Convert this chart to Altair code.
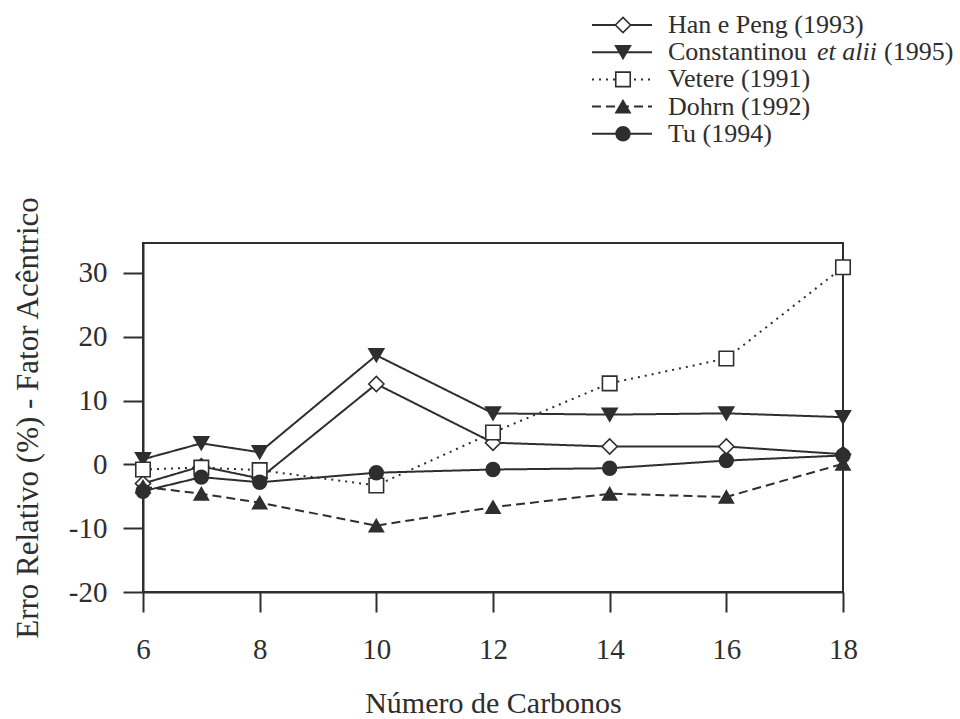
import altair as alt
import pandas as pd

# ---- data ----
carbonos = [6, 7, 8, 10, 12, 14, 16, 18]
series = ["Han e Peng (1993)", "Constantinou et alii (1995)", "Vetere (1991)", "Dohrn (1992)", "Tu (1994)"]
han_peng = [-3.0, -0.3, -2.2, 12.6, 3.4, 2.8, 2.8, 1.6]
constantinou = [0.8, 3.3, 1.9, 17.1, 8.0, 7.8, 8.0, 7.4]
vetere = [-0.8, -0.5, -0.9, -3.3, 5.0, 12.7, 16.6, 30.9]
dohrn = [-3.5, -4.6, -6.0, -9.6, -6.7, -4.6, -5.1, 0.1]
tu = [-4.2, -2.0, -2.8, -1.3, -0.8, -0.6, 0.6, 1.4]
y_ticks = [-20, -10, 0, 10, 20, 30]
x_ticks = [6, 8, 10, 12, 14, 16, 18]

values = [han_peng, constantinou, vetere, dohrn, tu]
rows = []
for name, vals in zip(series, values):
    for c, v in zip(carbonos, vals):
        rows.append({"serie": name, "carbonos": c, "erro": v})
df = pd.DataFrame(rows)

# ---- styles ----
INK = "#2e2e2e"
FONT = "Liberation Serif"
shapes = ["diamond", "triangle-down", "square", "triangle-up", "circle"]
fills = ["white", INK, "white", INK, INK]
dashes = [[1, 0], [1, 0], [2, 5], [9, 5], [1, 0]]
sizes = [230, 190, 170, 190, 200]

dash_scale = alt.Scale(domain=series, range=dashes)
shape_scale = alt.Scale(domain=series, range=shapes)
fill_scale = alt.Scale(domain=series, range=fills)
size_scale = alt.Scale(domain=series, range=sizes)

W, H = 700, 349
x_scale = alt.Scale(domain=[6, 18], nice=False)
y_scale = alt.Scale(domain=[-20, 34.7], nice=False, zero=False)

lines = alt.Chart(df).mark_line(color=INK, strokeWidth=2).encode(
    x=alt.X("carbonos:Q", scale=x_scale,
            axis=alt.Axis(title="Número de Carbonos", values=x_ticks, grid=False,
                          labelExpr="'' + datum.value", labelFlush=False,
                          tickSize=20, labelPadding=23, titlePadding=24)),
    y=alt.Y("erro:Q", scale=y_scale,
            axis=alt.Axis(title="Erro Relativo (%) - Fator Acêntrico", values=y_ticks, grid=False,
                          labelExpr="'' + datum.value", labelFlush=False,
                          tickSize=20, labelPadding=16,
                          titleX=-115, titleY=H / 2, titleAngle=270,
                          titleAlign="center", titleBaseline="middle",
                          titleFontSize=31)),
    detail="serie:N",
    strokeDash=alt.StrokeDash("serie:N", scale=dash_scale, legend=None),
)

points = alt.Chart(df).mark_point(filled=True, stroke=INK, strokeWidth=1.6, opacity=1).encode(
    x=alt.X("carbonos:Q", scale=x_scale),
    y=alt.Y("erro:Q", scale=y_scale),
    shape=alt.Shape("serie:N", scale=shape_scale, legend=None),
    fill=alt.Fill("serie:N", scale=fill_scale, legend=None),
    size=alt.Size("serie:N", scale=size_scale, legend=None),
)

# ---- manual legend (pixel positions relative to the plot area) ----
leg_rows = []
for i, name in enumerate(series):
    ly = -218 + 27.2 * i
    leg_rows.append({"serie": name, "x0": 449, "x1": 509, "xm": 480, "ly": ly})
leg = pd.DataFrame(leg_rows)

leg_lines = alt.Chart(leg).mark_rule(color=INK, strokeWidth=2).encode(
    x=alt.X("x0:Q", scale=None), x2="x1:Q", y=alt.Y("ly:Q", scale=None),
    strokeDash=alt.StrokeDash("serie:N", scale=dash_scale, legend=None),
)
leg_pts = alt.Chart(leg).mark_point(filled=True, stroke=INK, strokeWidth=1.6, opacity=1).encode(
    x=alt.X("xm:Q", scale=None), y=alt.Y("ly:Q", scale=None),
    shape=alt.Shape("serie:N", scale=shape_scale, legend=None),
    fill=alt.Fill("serie:N", scale=fill_scale, legend=None),
    size=alt.Size("serie:N", scale=size_scale, legend=None),
)

# label pieces (italic "et alii")
pieces = []
for i, name in enumerate(series):
    ly = -218 + 27.2 * i
    if "et alii" in name:
        pieces.append({"t": "Constantinou", "x": 525, "ly": ly, "it": False})
        pieces.append({"t": "et alii", "x": 674, "ly": ly, "it": True})
        pieces.append({"t": "(1995)", "x": 741, "ly": ly, "it": False})
    else:
        pieces.append({"t": name, "x": 525, "ly": ly, "it": False})
pc = pd.DataFrame(pieces)

leg_txt = alt.Chart(pc[~pc["it"]]).mark_text(
    align="left", baseline="middle", font=FONT, fontSize=26, color=INK
).encode(x=alt.X("x:Q", scale=None), y=alt.Y("ly:Q", scale=None), text="t:N")
leg_txt_it = alt.Chart(pc[pc["it"]]).mark_text(
    align="left", baseline="middle", font=FONT, fontSize=26, fontStyle="italic", color=INK
).encode(x=alt.X("x:Q", scale=None), y=alt.Y("ly:Q", scale=None), text="t:N")

chart = alt.layer(lines, points, leg_lines, leg_pts, leg_txt, leg_txt_it).properties(
    width=W, height=H,
    autosize=alt.AutoSizeParams(type="none"),
    padding={"left": 143, "top": 243, "right": 117, "bottom": 127},
    background="white",
).configure_view(
    stroke=INK, strokeWidth=2
).configure_axis(
    domainColor=INK, domainWidth=2, tickColor=INK, tickWidth=2,
    labelFont=FONT, labelFontSize=29, labelColor=INK,
    titleFont=FONT, titleFontSize=30, titleColor=INK, titleFontWeight="normal",
)

chart.save("out.html", embed_options={"renderer": "svg", "actions": False})
